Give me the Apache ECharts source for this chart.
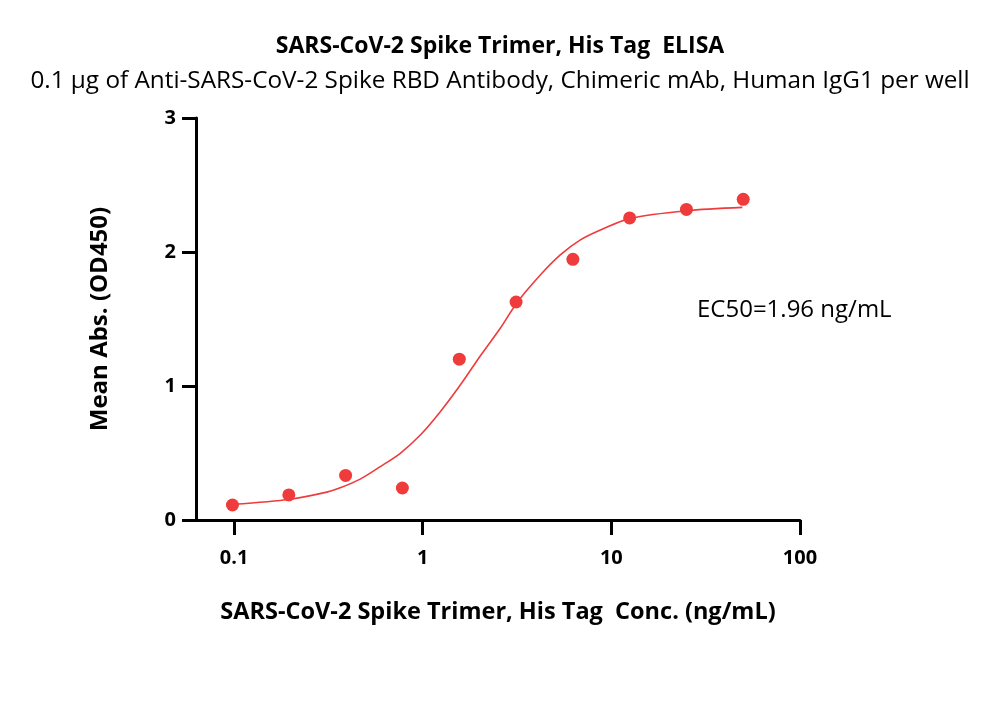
<!DOCTYPE html>
<html><head><meta charset="utf-8">
<script src="https://cdn.jsdelivr.net/npm/echarts@6/dist/echarts.min.js"></script>
<style>html,body{margin:0;padding:0;background:#fff}#c{width:1000px;height:726px}</style>
</head><body><div id="c"></div>
<script>
const concentrations = [0.098, 0.195, 0.39, 0.78, 1.5625, 3.125, 6.25, 12.5, 25, 50];
const meanAbs = [0.112, 0.187, 0.333, 0.239, 1.20, 1.627, 1.945, 2.254, 2.318, 2.393];
const fitConc = [0.099, 0.198, 0.31, 0.365, 0.466, 0.595, 0.76, 0.971, 1.239, 1.581, 2.018, 2.576, 3.16, 4.2, 5.36, 6.85, 8.75, 12.6, 25, 49.5];
const fitAbs = [0.117, 0.155, 0.208, 0.24, 0.305, 0.398, 0.498, 0.634, 0.808, 1.007, 1.224, 1.431, 1.622, 1.828, 1.978, 2.09, 2.164, 2.251, 2.308, 2.333];
const xTicks = [0.1, 1, 10, 100];
const titleText = 'SARS-CoV-2 Spike Trimer, His Tag  ELISA';
const subtitleText = '0.1 µg of Anti-SARS-CoV-2 Spike RBD Antibody, Chimeric mAb, Human IgG1 per well';
const xName = 'SARS-CoV-2 Spike Trimer, His Tag  Conc. (ng/mL)';
const yName = 'Mean Abs. (OD450)';
const ec50Text = 'EC50=1.96 ng/mL';

const FONT = 'Open Sans';
const RED = '#EF3B3B';
const chart = echarts.init(document.getElementById('c'));
chart.setOption({
  animation: false,
  backgroundColor: '#fff',
  title: [
    {text: titleText, left: 'center', top: 30, textStyle: {fontFamily: FONT, fontSize: 23, fontWeight: 'bold', color: '#000'}},
    {text: subtitleText, left: 'center', top: 64, textStyle: {fontFamily: FONT, fontSize: 24.3, fontWeight: 'normal', color: '#000'}}
  ],
  grid: {left: 196, right: 200, top: 118, bottom: 206, containLabel: false},
  xAxis: {
    type: 'log', logBase: 10, min: 0.0628, max: 100,
    name: xName, nameLocation: 'middle', nameGap: 80,
    nameTextStyle: {fontFamily: FONT, fontSize: 23.5, fontWeight: 'bold', color: '#000'},
    axisLine: {lineStyle: {color: '#000', width: 3}},
    axisTick: {show: true, length: 15, lineStyle: {color: '#000', width: 3}, customValues: xTicks},
    axisLabel: {fontFamily: FONT, fontSize: 20, fontWeight: 'bold', color: '#000', margin: 28, customValues: xTicks,
      formatter: v => String(v)},
    splitLine: {show: false}, minorTick: {show: false}
  },
  yAxis: {
    type: 'value', min: 0, max: 3, interval: 1,
    name: yName, nameLocation: 'middle', nameGap: 84, nameRotate: 90,
    nameTextStyle: {fontFamily: FONT, fontSize: 24, fontWeight: 'bold', color: '#000'},
    axisLine: {show: true, lineStyle: {color: '#000', width: 3}},
    axisTick: {show: true, length: 14, lineStyle: {color: '#000', width: 3}},
    axisLabel: {fontFamily: FONT, fontSize: 20, fontWeight: 'bold', color: '#000', margin: 20},
    splitLine: {show: false}
  },
  series: [
    {type: 'line', data: fitConc.map((c, i) => [c, fitAbs[i]]), smooth: 0.3, showSymbol: false, symbol: 'none',
      lineStyle: {color: RED, width: 1.6}, z: 2},
    {type: 'scatter', data: concentrations.map((c, i) => [c, meanAbs[i]]), symbolSize: 13,
      itemStyle: {color: RED, opacity: 1}, z: 3}
  ],
  graphic: [
    {type: 'text', left: 697, top: 298, style: {text: ec50Text, fontFamily: FONT, fontSize: 24, fill: '#000'}}
  ]
});
</script></body></html>
